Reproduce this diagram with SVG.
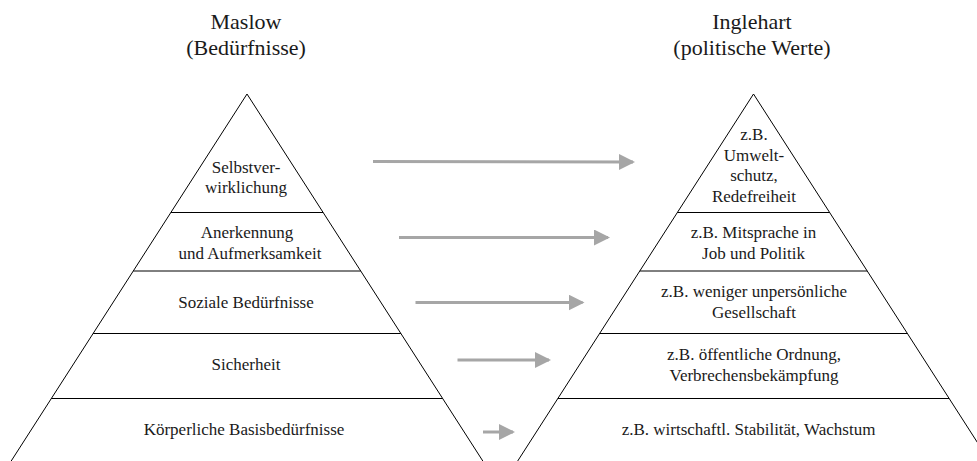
<svg xmlns="http://www.w3.org/2000/svg" width="977" height="461" viewBox="0 0 977 461">
<style>
.t{font-family:"Liberation Serif","Times New Roman",serif;font-size:17px;fill:#1a1a1a;text-anchor:middle}
.h{font-family:"Liberation Serif","Times New Roman",serif;font-size:22px;fill:#1a1a1a;text-anchor:middle}
.edge{fill:none;stroke:#000;stroke-width:1}
.div{stroke:#000;stroke-width:1}
.arr{stroke:#a6a6a6;stroke-width:3;fill:none;marker-end:url(#ah)}
</style>
<defs>
<marker id="ah" markerUnits="userSpaceOnUse" markerWidth="16" markerHeight="16" viewBox="0 0 16 16" refX="14" refY="8" orient="auto">
<path d="M0,0 L16,8 L0,16 z" fill="#a6a6a6"/>
</marker>
</defs>
<rect width="977" height="461" fill="#fff"/>
<g id="title-maslow">
<text class="h" x="246" y="29">Maslow</text>
<text class="h" x="246" y="55">(Bedürfnisse)</text>
</g>
<g id="title-inglehart">
<text class="h" x="752" y="29">Inglehart</text>
<text class="h" x="752" y="55">(politische Werte)</text>
</g>
<g id="pyramid-maslow">
<path class="edge" d="M5.4,470 L247,94 L488.6,470"/>
<g id="m1"><text class="t" x="246" y="172.5">Selbstver-</text><text class="t" x="246" y="193">wirklichung</text></g>
<line class="div" x1="170.9" y1="212.5" x2="323.1" y2="212.5"/>
<g id="m2"><text class="t" x="247" y="238">Anerkennung</text><text class="t" x="250" y="258.5">und Aufmerksamkeit</text></g>
<line class="div" x1="133.3" y1="271" x2="360.7" y2="271"/>
<g id="m3"><text class="t" x="246" y="308">Soziale Bedürfnisse</text></g>
<line class="div" x1="93.1" y1="333.5" x2="400.9" y2="333.5"/>
<g id="m4"><text class="t" x="246" y="369.5">Sicherheit</text></g>
<line class="div" x1="51.4" y1="398.5" x2="442.6" y2="398.5"/>
<g id="m5"><text class="t" x="244" y="435">Körperliche Basisbedürfnisse</text></g>
</g>
<g id="pyramid-inglehart">
<path class="edge" d="M511.9,470 L753.5,94 L995.1,470"/>
<g id="i1"><text class="t" x="754" y="140">z.B.</text><text class="t" x="754" y="160.5">Umwelt-</text><text class="t" x="754" y="181">schutz,</text><text class="t" x="754" y="201.5">Redefreiheit</text></g>
<line class="div" x1="677.4" y1="212.5" x2="829.6" y2="212.5"/>
<g id="i2"><text class="t" x="753.5" y="238">z.B. Mitsprache in</text><text class="t" x="753.5" y="258.5">Job und Politik</text></g>
<line class="div" x1="639.8" y1="271" x2="867.2" y2="271"/>
<g id="i3"><text class="t" x="754" y="297">z.B. weniger unpersönliche</text><text class="t" x="754" y="317.5">Gesellschaft</text></g>
<line class="div" x1="599.6" y1="333.5" x2="907.4" y2="333.5"/>
<g id="i4"><text class="t" x="754" y="360">z.B. öffentliche Ordnung,</text><text class="t" x="754" y="380.5">Verbrechensbekämpfung</text></g>
<line class="div" x1="557.9" y1="398.5" x2="949.1" y2="398.5"/>
<g id="i5"><text class="t" x="748.5" y="434.5">z.B. wirtschaftl. Stabilität, Wachstum</text></g>
</g>
<g id="connectors">
<line class="arr" x1="373" y1="161.5" x2="633" y2="162"/>
<line class="arr" x1="399" y1="237.5" x2="608" y2="237.5"/>
<line class="arr" x1="415.5" y1="302.5" x2="582.5" y2="302.5"/>
<line class="arr" x1="457.5" y1="360" x2="549" y2="360"/>
<line class="arr" x1="483" y1="432" x2="513" y2="432"/>
</g>
</svg>
